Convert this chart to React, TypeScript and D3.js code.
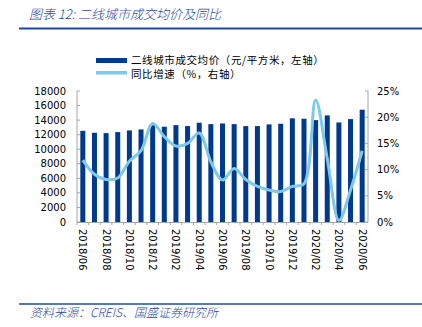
import React from "react";
import * as d3 from "d3";

const categories = [
  "2018/06","2018/07","2018/08","2018/09","2018/10","2018/11","2018/12",
  "2019/01","2019/02","2019/03","2019/04","2019/05","2019/06","2019/07",
  "2019/08","2019/09","2019/10","2019/11","2019/12","2020/01","2020/02",
  "2020/03","2020/04","2020/05","2020/06",
];
const prices = [
  12530, 12260, 12210, 12350, 12580, 12720, 13300, 13090, 13310, 13180,
  13640, 13450, 13540, 13450, 13180, 13180, 13410, 13500, 14250, 14190,
  14000, 14650, 13680, 14140, 15430,
];
const yoy = [
  11.8, 9.1, 8.1, 8.4, 11.6, 13.6, 18.8, 16.3, 14.5, 15.0, 17.0, 11.5, 8.0,
  10.2, 8.1, 6.8, 6.1, 5.8, 6.8, 7.3, 23.3, 12.1, 0.3, 6.1, 13.6,
];
const leftTicks = [0, 2000, 4000, 6000, 8000, 10000, 12000, 14000, 16000, 18000];
const rightTicks = [0, 5, 10, 15, 20, 25];
const title = "图表 12:  二线城市成交均价及同比";
const source = "资料来源：CREIS、国盛证券研究所";
const legendBar = "二线城市成交均价（元/平方米，左轴）";
const legendLine = "同比增速（%，右轴）";

const W = 422, H = 327;
const L = 77, R = 368, T = 91, B = 222;
const BLUE = "#003A8F";
const LIGHT = "#7EC8E8";
const TITLE_BLUE = "#1F4B9C";
const AXIS = "#A6A6A6";
const tickFont = "'DejaVu Sans', Verdana, sans-serif";
const cjkFont = "'Noto Sans CJK SC', sans-serif";

export default function App() {
  const x = d3.scaleBand<string>().domain(categories).range([L, R]).paddingInner(0.57).paddingOuter(0.285);
  const yL = d3.scaleLinear().domain([0, 18000]).range([B, T]);
  const yR = d3.scaleLinear().domain([0, 25]).range([B, T]);
  const cx = (c: string) => (x(c) as number) + x.bandwidth() / 2;
  const line = d3
    .line<number>()
    .x((_, i) => cx(categories[i]))
    .y((d) => yR(d))
    .curve(d3.curveCatmullRom.alpha(0.5));
  const step = x.step();

  return (
    <svg width={W} height={H} style={{ position: "absolute", left: 0, top: 0, background: "#fff" }}>
      <text x={29} y={19} fontFamily={cjkFont} fontStyle="italic" fontSize={13} fontWeight={300} fill={TITLE_BLUE}>{title}</text>
      <line x1={19} x2={422} y1={28.5} y2={28.5} stroke={TITLE_BLUE} strokeWidth={1.8} />

      {/* legend */}
      <rect x={96} y={58} width={31} height={5} fill={BLUE} />
      <text x={131} y={64} fontFamily={cjkFont} fontSize={10.5} letterSpacing={0.6} fill="#000">{legendBar}</text>
      <rect x={96} y={71} width={31} height={3.5} fill={LIGHT} />
      <text x={131} y={77.5} fontFamily={cjkFont} fontSize={10.5} letterSpacing={0.6} fill="#000">{legendLine}</text>

      {/* bars */}
      {prices.map((v, i) => (
        <rect key={i} x={x(categories[i])} y={yL(v)} width={x.bandwidth()} height={B - yL(v)} fill={BLUE} />
      ))}

      {/* axes */}
      <line x1={L} x2={L} y1={T} y2={B} stroke={AXIS} />
      <line x1={R} x2={R} y1={T} y2={B} stroke={AXIS} />
      <line x1={L} x2={R} y1={B + 0.5} y2={B + 0.5} stroke={AXIS} />
      {leftTicks.map((t) => (
        <g key={t}>
          <line x1={L} x2={L + 3} y1={yL(t)} y2={yL(t)} stroke={AXIS} />
          <text x={66} y={yL(t)} dy="0.35em" textAnchor="end" fontFamily={tickFont} fontSize={10} fill="#000">{t}</text>
        </g>
      ))}
      {rightTicks.map((t) => (
        <g key={t}>
          <line x1={R - 3} x2={R} y1={yR(t)} y2={yR(t)} stroke={AXIS} />
          <text x={377} y={yR(t)} dy="0.35em" textAnchor="start" fontFamily={tickFont} fontSize={10} fill="#000">{t}%</text>
        </g>
      ))}
      {categories.map((c, i) => (
        <line key={c} x1={L + step * i} x2={L + step * i} y1={B} y2={B + 3} stroke={AXIS} />
      ))}
      {categories.map((c, i) =>
        i % 2 === 0 ? (
          <text key={c} transform={`translate(${cx(c)},229) rotate(90)`} dy="0.35em" textAnchor="start" fontFamily={tickFont} fontSize={10} fill="#000">{c}</text>
        ) : null
      )}

      {/* line */}
      <path d={line(yoy) || ""} fill="none" stroke={LIGHT} strokeWidth={3} strokeLinejoin="round" />

      <line x1={19} x2={422} y1={304} y2={304} stroke={TITLE_BLUE} strokeWidth={1.5} />
      <text x={30} y={317} fontFamily={cjkFont} fontStyle="italic" fontSize={12} fontWeight={300} fill={TITLE_BLUE}>{source}</text>
    </svg>
  );
}
